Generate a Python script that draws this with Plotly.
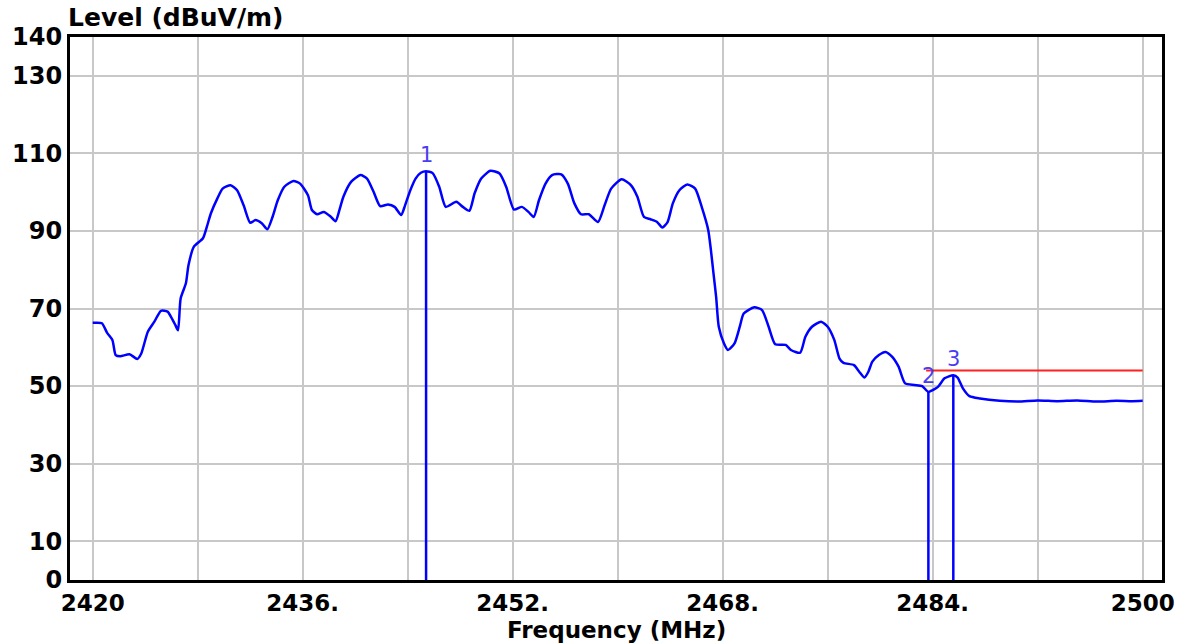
import plotly.graph_objects as go

# ---- data ----
freq_mhz = [2420.0, 2420.7, 2421.1, 2421.5, 2421.75, 2422.1, 2422.8, 2423.4, 2423.7, 2424.2,
            2424.7, 2425.2, 2425.7, 2426.1, 2426.3, 2426.5, 2426.7, 2427.1, 2427.3, 2427.7,
            2428.4, 2428.7, 2429.0, 2429.5, 2429.9, 2430.5, 2431.0, 2431.5, 2432.0, 2432.4,
            2432.9, 2433.3, 2433.7, 2434.1, 2434.6, 2435.3, 2435.8, 2436.4, 2436.7, 2437.1,
            2437.6, 2438.1, 2438.5, 2438.8, 2439.1, 2439.7, 2440.4, 2440.9, 2441.4, 2441.9,
            2442.5, 2443.0, 2443.5, 2443.8, 2444.2, 2444.6, 2445.0, 2445.4, 2445.9, 2446.4,
            2446.9, 2447.7, 2448.2, 2448.7, 2449.1, 2449.6, 2450.3, 2451.0, 2451.5, 2452.1,
            2452.7, 2453.2, 2453.6, 2454.0, 2454.5, 2455.0, 2455.7, 2456.2, 2456.7, 2457.2,
            2457.8, 2458.5, 2459.0, 2459.5, 2460.3, 2461.0, 2461.5, 2462.0, 2462.5, 2463.0,
            2463.4, 2463.8, 2464.2, 2464.7, 2465.3, 2465.9, 2466.4, 2466.9, 2467.1, 2467.3,
            2467.5, 2467.7, 2468.1, 2468.4, 2468.9, 2469.3, 2469.6, 2470.4, 2471.0, 2471.5,
            2472.0, 2472.8, 2473.2, 2473.9, 2474.3, 2474.8, 2475.5, 2476.0, 2476.5, 2476.9,
            2477.2, 2478.0, 2478.4, 2478.8, 2479.1, 2479.4, 2479.9, 2480.4, 2480.9, 2481.4,
            2481.9, 2482.6, 2483.2, 2483.67, 2484.4, 2484.9, 2485.57, 2485.9, 2486.3, 2486.8,
            2487.6, 2489.1, 2490.5, 2492.0, 2493.5, 2495.0, 2496.5, 2498.0, 2499.2, 2500.0]
level_dbuv = [66.3, 66.2, 63.7, 61.9, 58.0, 57.7, 58.2, 57.0, 58.4, 64.0,
              66.6, 69.4, 69.2, 67.0, 65.7, 64.4, 72.6, 76.5, 81.2, 85.9,
              88.1, 91.1, 94.5, 98.4, 100.9, 101.8, 100.5, 96.6, 92.1, 92.8,
              91.9, 90.4, 93.6, 97.9, 101.4, 102.9, 102.2, 99.2, 95.4, 94.3,
              94.9, 93.8, 92.5, 95.4, 98.8, 102.7, 104.4, 103.5, 100.1, 96.4,
              96.8, 96.2, 94.1, 96.6, 100.5, 103.5, 105.0, 105.4, 104.9, 101.4,
              96.2, 97.5, 96.2, 95.2, 99.7, 103.5, 105.5, 104.8, 101.4, 95.5,
              96.2, 94.9, 93.6, 97.9, 102.2, 104.4, 104.6, 102.2, 97.1, 94.3,
              94.3, 92.3, 96.6, 100.9, 103.3, 101.8, 98.8, 93.6, 93.0, 92.3,
              90.9, 92.3, 97.1, 100.5, 102.0, 100.9, 96.2, 90.2, 85.1, 79.0,
              73.0, 65.3, 61.0, 59.3, 61.0, 65.3, 68.7, 70.3, 69.6, 65.3,
              60.8, 60.6, 59.3, 58.6, 62.7, 65.3, 66.6, 65.3, 61.9, 57.1,
              56.0, 55.4, 53.7, 52.2, 53.7, 56.3, 58.0, 58.8, 57.6, 55.0,
              50.7, 50.3, 50.0, 48.5, 49.8, 52.0, 52.8, 52.2, 49.4, 47.4,
              46.8, 46.2, 46.0, 46.3, 46.1, 46.3, 46.0, 46.2, 46.1, 46.2]

marker_freq = [2445.4, 2483.67, 2485.57]
marker_level = [105.4, 48.5, 52.8]
marker_labels = ["1", "2", "3"]

limit_freq = [2483.5, 2500.0]
limit_level = [54.0, 54.0]

x_grid_vals = [2420, 2428, 2436, 2444, 2452, 2460, 2468, 2476, 2484, 2492, 2500]
x_tick_text = ["2420", "", "2436.", "", "2452.", "", "2468.", "", "2484.", "", "2500"]
y_tick_vals = [0, 10, 30, 50, 70, 90, 110, 130, 140]
y_tick_text = ["0", "10", "30", "50", "70", "90", "110", "130", "140"]

# ---- figure ----
fig = go.Figure()

fig.add_trace(go.Scatter(x=freq_mhz, y=level_dbuv, mode="lines",
                         line=dict(color="#0000ff", width=2.5, shape="spline", smoothing=0.6),
                         hoverinfo="skip"))

mx, my = [], []
for f, l in zip(marker_freq, marker_level):
    mx += [f, f, None]
    my += [0, l, None]
fig.add_trace(go.Scatter(x=mx, y=my, mode="lines",
                         line=dict(color="#0000ff", width=2.5), hoverinfo="skip"))

fig.add_trace(go.Scatter(x=limit_freq, y=limit_level, mode="lines",
                         line=dict(color="#ff2020", width=2), hoverinfo="skip"))

for f, l, t in zip(marker_freq, marker_level, marker_labels):
    fig.add_annotation(x=f, y=l, text=t, showarrow=False, yanchor="middle",
                       yshift=16, font=dict(family="DejaVu Sans", size=21, color="#4a3cf2"))

fig.add_annotation(xref="paper", yref="paper", x=0.0, y=1 + 19 / 543, xanchor="left",
                   yanchor="middle", xshift=-4, text="Level (dBuV/m)", showarrow=False,
                   font=dict(family="DejaVu Sans", size=25, color="#000000", weight="bold"))
fig.add_annotation(xref="paper", yref="paper", x=0.5, y=-50 / 543, xanchor="center",
                   yanchor="middle", text="Frequency (MHz)", showarrow=False,
                   font=dict(family="DejaVu Sans", size=23, color="#000000", weight="bold"))

fig.update_layout(
    width=1192, height=643,
    margin=dict(l=70, r=30, t=37, b=63, pad=0),
    paper_bgcolor="white", plot_bgcolor="white",
    showlegend=False,
    xaxis=dict(range=[2418.27, 2501.47], tickmode="array", tickvals=x_grid_vals,
               ticktext=x_tick_text, showgrid=True, gridcolor="#c8c8c8", gridwidth=2,
               showline=True, linecolor="black", linewidth=3, mirror=True,
               ticks="", zeroline=False, ticklabelstandoff=0,
               tickfont=dict(family="DejaVu Sans", size=23, color="#000000", weight="bold")),
    yaxis=dict(range=[0, 140], tickmode="array", tickvals=y_tick_vals,
               ticktext=y_tick_text, showgrid=True, gridcolor="#c8c8c8", gridwidth=2,
               showline=True, linecolor="black", linewidth=3, mirror=True,
               ticks="", zeroline=False, ticklabelstandoff=0,
               tickfont=dict(family="DejaVu Sans", size=24, color="#000000", weight="bold")),
)

fig.write_html("out.html", config={"displayModeBar": False},
               post_script="document.body.style.margin='0';document.body.style.overflow='hidden';")
